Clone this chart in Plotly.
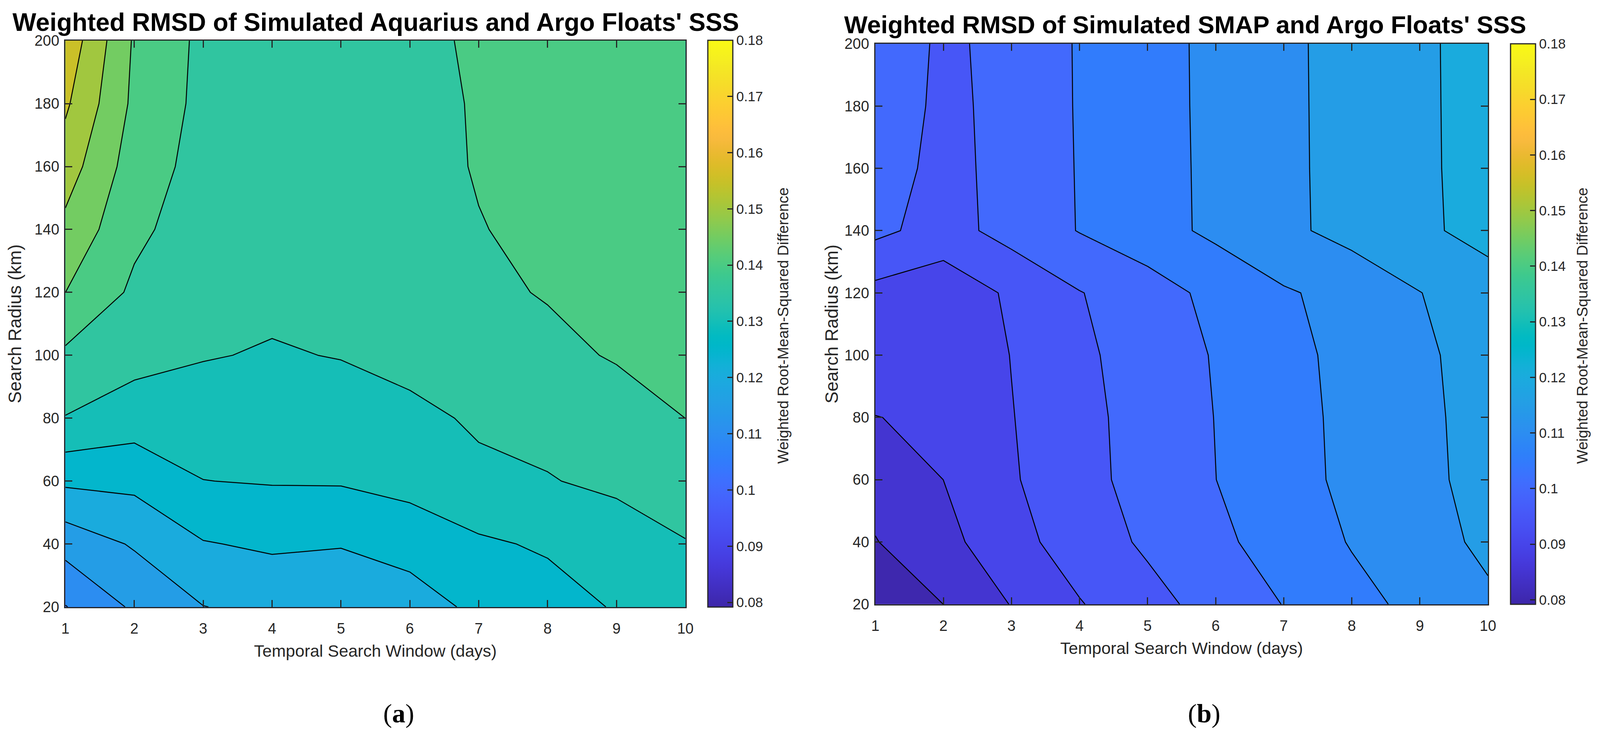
import plotly.graph_objects as go

# MATLAB parula (R2014b)
parula_rgb = [
    (.2422,.1504,.6603),(.2504,.1650,.7076),(.2578,.1818,.7511),(.2647,.1978,.7952),
    (.2706,.2147,.8364),(.2751,.2342,.8710),(.2783,.2559,.8991),(.2803,.2782,.9221),
    (.2813,.3006,.9414),(.2810,.3228,.9579),(.2795,.3447,.9717),(.2760,.3667,.9829),
    (.2699,.3892,.9906),(.2602,.4123,.9952),(.2440,.4358,.9988),(.2206,.4603,.9973),
    (.1963,.4847,.9892),(.1834,.5074,.9798),(.1786,.5289,.9682),(.1764,.5499,.9520),
    (.1687,.5703,.9359),(.1540,.5902,.9218),(.1460,.6091,.9079),(.1380,.6276,.8973),
    (.1248,.6459,.8883),(.1113,.6635,.8763),(.0952,.6798,.8598),(.0689,.6948,.8394),
    (.0297,.7082,.8163),(.0036,.7203,.7917),(.0067,.7312,.7660),(.0433,.7411,.7394),
    (.0964,.7500,.7120),(.1408,.7584,.6842),(.1717,.7670,.6554),(.1938,.7758,.6251),
    (.2161,.7843,.5923),(.2470,.7918,.5567),(.2906,.7973,.5188),(.3406,.8008,.4789),
    (.3909,.8029,.4354),(.4456,.8024,.3909),(.5044,.7993,.3480),(.5616,.7942,.3045),
    (.6174,.7876,.2612),(.6720,.7793,.2227),(.7242,.7698,.1910),(.7738,.7598,.1646),
    (.8203,.7498,.1535),(.8634,.7406,.1596),(.9035,.7330,.1774),(.9393,.7288,.2100),
    (.9728,.7298,.2394),(.9956,.7434,.2371),(.9970,.7659,.2199),(.9952,.7893,.2028),
    (.9892,.8136,.1885),(.9786,.8386,.1766),(.9676,.8639,.1643),(.9610,.8890,.1537),
    (.9597,.9135,.1423),(.9628,.9373,.1265),(.9691,.9606,.1064),(.9769,.9839,.0805),
]

days = [1, 2, 3, 4, 5, 6, 7, 8, 9, 10]
radius = [20, 40, 60, 80, 100, 120, 140, 160, 180, 200]

aquarius_20 = [.1098, .1158, .1199, .1212, .1222, .1235, .1257, .1278, .1304, .1325]
aquarius_40 = [.1168, .1205, .1247, .12575, .1252, .1262, .12922, .13064, .1308, .1347]
aquarius_60 = [.1259, .1263, .12994, .1303, .1304, .132, .1341, .1346, .1366, .1382]
aquarius_80 = [.1348, .1324, .1323, .1325, .1325, .13396, .13556, .1373, .1377, .14001]
aquarius_100 = [.1391, .1367, .1353, .1346, .1352, .1363, .1378, .1388, .1404, .1415]
aquarius_120 = [.14501, .1391, .1365, .1361, .1361, .1368, .1391, .1403, .1415, .1425]
aquarius_140 = [.1487, .1411, .1374, .137, .137, .1375, .1397, .1417, .1425, .1432]
aquarius_160 = [.1525, .1425, .1383, .1373, .1372, .1373, .1405, .1422, .1431, .1437]
aquarius_180 = [.1558, .1439, .1387, .1375, .1373, .1377, .1406, .1425, .1434, .144]
aquarius_200 = [.1585, .1444, .1389, .1377, .1375, .138, .1411, .1428, .1437, .1443]

smap_20 = [.0805, .08501, .0902, .0947, .0984, .1018, .10513, .1085, .1113, .1139]
smap_40 = [.0848, .0885, .0932, .0975, .10075, .10394, .10709, .1103, .1125, .1163]
smap_60 = [.0868, .09001, .09447, .0985, .1017, .10497, .1081, .11116, .114, .11633]
smap_80 = [.08994, .0905, .09481, .0986, .1019, .1051, .1083, .11123, .1143, .11614]
smap_100 = [.0918, .0911, .09512, .099, .1023, .10533, .1085, .1115, .1141, .1171]
smap_120 = [.09346, .0917, .0958, .0998, .1027, .1064, .1095, .1115, .1149, .1178]
smap_140 = [.10115, .09804, .1018, .1052, .1081, .111, .1139, .11665, .1191, .1216]
smap_160 = [.1015, .09908, .101, .10535, .1083, .11096, .1138, .11696, .1192, .1217]
smap_180 = [.1018, .09937, .1008, .10547, .1085, .11092, .1137, .11721, .1193, .12156]
smap_200 = [.102, .0995, .1008, .10552, .1085, .11096, .1138, .11713, .1193, .12163]

aquarius = [aquarius_20, aquarius_40, aquarius_60, aquarius_80, aquarius_100,
            aquarius_120, aquarius_140, aquarius_160, aquarius_180, aquarius_200]
smap = [smap_20, smap_40, smap_60, smap_80, smap_100,
        smap_120, smap_140, smap_160, smap_180, smap_200]

cbar_ticks = [.08, .09, .1, .11, .12, .13, .14, .15, .16, .17, .18]
cbar_labels = ["0.08", "0.09", "0.1", "0.11", "0.12", "0.13", "0.14", "0.15", "0.16", "0.17", "0.18"]

W, H = 4339, 1888
CMIN, CMAX = .0792, .18
START, END, STEP = .08, .18, .005
INK = "#262626"
FONT = "Liberation Sans"

parula = [[i / 63, "rgb(%d,%d,%d)" % (r * 255, g * 255, b * 255)]
          for i, (r, g, b) in enumerate(parula_rgb)]

# plotly paints a band with the colour at its middle, matlab with the colour of
# its lower level, so the scale for the fills is moved up by half a step
band_scale = [[(CMIN + p * (CMAX - CMIN) + STEP / 2 - START) / (END - START), c] for p, c in parula]
band_scale = [s for s in band_scale if 0 < s[0] < 1]
band_scale = [[0, parula[0][1]]] + band_scale + [[1, parula[-1][1]]]

fig = go.Figure()


def note(x, y, text, size, family=FONT, color="black", angle=0):
    fig.add_annotation(x=x / W, y=1 - y / H, xref="paper", yref="paper", text=text,
                       showarrow=False, xanchor="center", yanchor="middle", textangle=angle,
                       font=dict(family=family, size=size, color=color))


def add_panel(n, z, box, cbox, title, title_xy, title_size, cbar_title_x, ytitle_standoff, label, label_x):
    left, right, top, bottom = box
    xname = "x" if n == 1 else "x%d" % n
    yname = "y" if n == 1 else "y%d" % n
    fig.add_trace(go.Contour(
        x=days, y=radius, z=z, xaxis=xname, yaxis=yname,
        colorscale=band_scale, zmin=START, zmax=END + .0001, showscale=False,
        contours=dict(start=START, end=END, size=STEP, coloring="fill", showlines=True),
        line=dict(color="black", width=2.5, smoothing=0),
    ))
    cleft, cright, ctop, cbottom = cbox
    fig.add_trace(go.Scatter(
        x=[None], y=[None], xaxis=xname, yaxis=yname, mode="markers", showlegend=False,
        marker=dict(
            color=[.1], colorscale=parula, cmin=CMIN, cmax=CMAX, showscale=True,
            colorbar=dict(
                x=cleft / W, xanchor="left", xpad=0, y=1 - cbottom / H, yanchor="bottom", ypad=0,
                thickness=cright - cleft, thicknessmode="pixels",
                len=(cbottom - ctop) / H, lenmode="fraction",
                outlinecolor=INK, outlinewidth=3, borderwidth=0,
                tickmode="array", tickvals=cbar_ticks, ticktext=cbar_labels,
                ticks="inside", ticklen=15, tickwidth=3, tickcolor=INK,
                tickfont=dict(family=FONT, size=35, color=INK),
            ),
        ),
    ))
    axis = dict(showgrid=False, zeroline=False, showline=True, linecolor=INK, linewidth=3,
                mirror="ticks", ticks="inside", ticklen=18, tickwidth=3, tickcolor=INK,
                tickfont=dict(family=FONT, size=38, color=INK))
    fig.update_layout({
        xname.replace("x", "xaxis"): dict(
            axis, domain=[left / W, right / W], range=[1, 10], tickvals=days, anchor=yname,
            ticklabelstandoff=20,
            title=dict(text="Temporal Search Window (days)", standoff=22,
                       font=dict(family=FONT, size=43, color=INK))),
        yname.replace("y", "yaxis"): dict(
            axis, domain=[1 - bottom / H, 1 - top / H], range=[20, 200], tickvals=radius, anchor=xname,
            ticklabelstandoff=5,
            title=dict(text="Search Radius (km)", standoff=ytitle_standoff,
                       font=dict(family=FONT, size=46, color=INK))),
    })
    note(title_xy[0], title_xy[1], "<b>%s</b>" % title, title_size)
    note(cbar_title_x, 840, "Weighted Root-Mean-Squared Difference", 38.5, color=INK, angle=-90)
    note(label_x, 1841, "(<b>%s</b>)" % label, 68, family="Liberation Serif")


add_panel(1, aquarius, (178, 1866, 105, 1566), (1927, 1991, 104, 1566),
          "Weighted RMSD of Simulated Aquarius and Argo Floats' SSS", (1023, 57), 64.3, 2132, 20, "a", 1085)
add_panel(2, smap, (2383, 4051, 113, 1559), (4113, 4177, 113, 1559),
          "Weighted RMSD of Simulated SMAP and Argo Floats' SSS", (3227, 64), 63.5, 4308, 2, "b", 3278)

fig.update_layout(margin=dict(l=0, r=0, t=0, b=0, autoexpand=False),
                  paper_bgcolor="white", plot_bgcolor="white", showlegend=False)

fig.write_html("out.html", config=dict(displayModeBar=False),
               post_script="document.body.style.margin='0';")
